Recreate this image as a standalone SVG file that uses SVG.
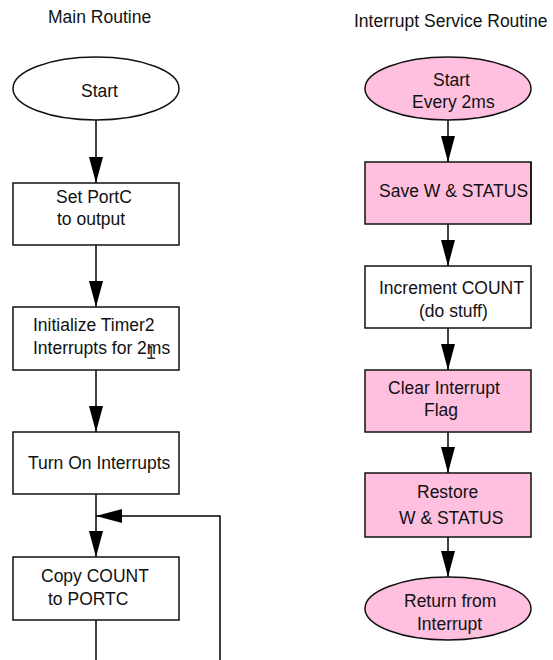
<svg xmlns="http://www.w3.org/2000/svg" width="553" height="660" viewBox="0 0 553 660">
<style>
text{font-family:"Liberation Sans",Arial,sans-serif;font-size:17.5px;fill:#111}
.n{stroke:#111;stroke-width:1.5;fill:#fff}
.p{fill:#FFBFDF}
.c{stroke:#000;stroke-width:1.5;fill:none}
</style>
<defs>
<marker id="ah" viewBox="0 0 26 14" refX="26" refY="7" markerWidth="26" markerHeight="14" markerUnits="userSpaceOnUse" orient="auto">
<path d="M0,0 L26,7 L0,14 z" fill="#000"/>
</marker>
</defs>
<rect width="553" height="660" fill="#fff"/>
<g id="titles">
<text x="48" y="23">Main Routine</text>
<text x="354" y="27">Interrupt Service Routine</text>
</g>
<g id="connectors">
<path class="c" d="M96,120 V183" marker-end="url(#ah)"/>
<path class="c" d="M96,245 V307" marker-end="url(#ah)"/>
<path class="c" d="M96,370 V432" marker-end="url(#ah)"/>
<path class="c" d="M96,494 V557" marker-end="url(#ah)"/>
<path class="c" d="M96,620 V660"/>
<path class="c" d="M220,660 V516 H96" marker-end="url(#ah)"/>
<path class="c" d="M448,120 V162" marker-end="url(#ah)"/>
<path class="c" d="M448,224 V266" marker-end="url(#ah)"/>
<path class="c" d="M448,328 V370" marker-end="url(#ah)"/>
<path class="c" d="M448,432 V473" marker-end="url(#ah)"/>
<path class="c" d="M448,537 V577" marker-end="url(#ah)"/>
</g>
<g id="main-start">
<ellipse class="n" cx="96" cy="88.5" rx="83" ry="31.5"/>
<text x="81" y="97">Start</text>
</g>
<g id="set-portc">
<rect class="n" x="13" y="183" width="166" height="62"/>
<text x="56" y="203">Set PortC</text>
<text x="57" y="225">to output</text>
</g>
<g id="init-timer2">
<rect class="n" x="13" y="307" width="166" height="63"/>
<text x="33" y="331">Initialize Timer2</text>
<text x="33" y="354">Interrupts for 2ms</text>
<text x="146" y="359" style="fill:#333">1</text>
</g>
<g id="turn-on-interrupts">
<rect class="n" x="13" y="432" width="166" height="62"/>
<text x="28" y="469">Turn On Interrupts</text>
</g>
<g id="copy-count">
<rect class="n" x="13" y="557" width="166" height="63"/>
<text x="41" y="582">Copy COUNT</text>
<text x="48" y="605">to PORTC</text>
</g>
<g id="isr-start">
<ellipse class="n p" cx="448" cy="88.5" rx="83" ry="31.5"/>
<text x="433" y="86">Start</text>
<text x="412" y="108">Every 2ms</text>
</g>
<g id="save-w-status">
<rect class="n p" x="365" y="162" width="166" height="62"/>
<text x="379" y="197">Save W &amp; STATUS</text>
<line x1="531" y1="162" x2="531" y2="224" stroke="#111" stroke-width="1.5"/>
</g>
<g id="increment-count">
<rect class="n" x="365" y="266" width="166" height="62"/>
<text x="379" y="294">Increment COUNT</text>
<text x="419" y="317">(do stuff)</text>
</g>
<g id="clear-flag">
<rect class="n p" x="365" y="370" width="166" height="62"/>
<text x="388" y="394">Clear Interrupt</text>
<text x="424" y="416">Flag</text>
</g>
<g id="restore">
<rect class="n p" x="365" y="473" width="166" height="64"/>
<text x="417" y="498">Restore</text>
<text x="399" y="524">W &amp; STATUS</text>
</g>
<g id="return">
<ellipse class="n p" cx="448" cy="608.5" rx="83" ry="31.5"/>
<text x="404" y="607">Return from</text>
<text x="417" y="630">Interrupt</text>
</g>
</svg>
